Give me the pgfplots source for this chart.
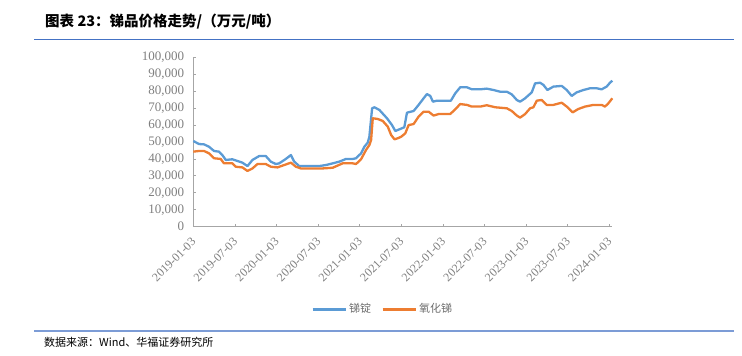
\documentclass[border=0pt]{standalone}
\usepackage{pgfplots}
\pgfplotsset{compat=1.18}
\usepackage{fontspec}
\setmainfont{Liberation Serif}
\newfontfamily\cjk{Noto Sans CJK SC}
\definecolor{cblue}{HTML}{5B9BD5}
\definecolor{corange}{HTML}{ED7D31}
\definecolor{tgray}{HTML}{7F7F7F}
\definecolor{lgray}{HTML}{6E6E6E}
\definecolor{agray}{HTML}{A6A6A6}
\definecolor{rule}{HTML}{4472C4}
\begin{document}
\begin{tikzpicture}[x=1bp,y=1bp]
\path[use as bounding box] (0,0) rectangle (742,355);
\node[anchor=west,inner sep=0pt,font=\cjk\bfseries\fontsize{14.5bp}{16bp}\selectfont] at (45,333) {图表 23：锑品价格走势/（万元/吨）};
\draw[rule,line width=1.3bp] (34,315.5) -- (734,315.5);
\draw[rule!70,line width=1.3bp] (34,24) -- (734,24);
\node[anchor=west,inner sep=0pt,font=\cjk\fontsize{11bp}{13bp}\selectfont] at (44,13) {数据来源：Wind、华福证券研究所};
\begin{axis}[
  at={(193.3bp,128.3bp)}, anchor=south west,
  scale only axis, width=419bp, height=169.4bp,
  xmin=2019, xmax=2024.036, ymin=0, ymax=100000,
  axis x line=bottom, axis y line=left,
  axis line style={agray,line width=0.8bp,-},
  xtick={2019,2019.5,2020,2020.5,2021,2021.5,2022,2022.5,2023,2023.5,2024},
  xticklabels={2019-01-03,2019-07-03,2020-01-03,2020-07-03,2021-01-03,2021-07-03,2022-01-03,2022-07-03,2023-01-03,2023-07-03,2024-01-03},
  ytick={0,10000,20000,30000,40000,50000,60000,70000,80000,90000,100000},
  yticklabels={0,{10,000},{20,000},{30,000},{40,000},{50,000},{60,000},{70,000},{80,000},{90,000},{100,000}},
  scaled ticks=false,
  tick style={agray,line width=0.8bp},
  major tick length=3bp,
  tick align=inside,
  xticklabel style={xshift=-2.5bp,yshift=-8.5bp,rotate=45,anchor=north east,font=\fontsize{12bp}{14bp}\selectfont,text=tgray,inner sep=1bp},
  yticklabel style={font=\fontsize{13bp}{15bp}\selectfont,text=tgray,inner sep=1bp,xshift=-8bp},
  legend style={at={(0.452,-0.486)},anchor=center,draw=none,fill=none,font=\cjk\fontsize{11bp}{13bp}\selectfont,text=lgray,legend columns=2,/tikz/every even column/.append style={column sep=8bp}},
  legend image code/.code={\draw[#1,line width=3bp] (0bp,0bp) -- (33bp,0bp);},
  clip=false,
]
\addplot[cblue,line width=2.3bp,line join=round] table {
2019.000 50600
2019.068 48800
2019.129 48600
2019.189 47200
2019.249 44700
2019.309 44300
2019.349 42300
2019.390 39400
2019.470 39800
2019.530 38800
2019.590 37800
2019.651 35800
2019.711 39400
2019.791 41700
2019.871 41700
2019.932 38400
2019.992 37000
2020.032 37400
2020.112 40000
2020.173 42300
2020.213 38400
2020.273 35800
2020.353 35800
2020.434 35800
2020.514 35800
2020.594 36400
2020.675 37400
2020.755 38400
2020.835 40000
2020.916 40000
2020.956 40400
2021.016 43300
2021.056 47200
2021.096 49600
2021.116 53100
2021.149 69900
2021.177 70500
2021.237 68900
2021.328 64000
2021.388 60000
2021.428 56500
2021.488 57700
2021.536 58700
2021.568 67300
2021.648 68300
2021.708 71900
2021.768 75800
2021.808 78300
2021.848 77200
2021.880 73800
2021.928 74400
2022.008 74400
2022.096 74400
2022.148 78700
2022.208 82300
2022.288 82300
2022.348 81100
2022.448 81100
2022.528 81500
2022.608 80700
2022.688 79700
2022.768 79700
2022.828 78100
2022.888 74800
2022.928 73800
2022.988 75800
2023.068 79300
2023.108 84600
2023.168 85000
2023.208 83700
2023.256 80700
2023.328 82700
2023.428 83100
2023.488 80700
2023.548 77200
2023.608 79300
2023.688 80700
2023.768 81700
2023.848 81700
2023.908 81100
2023.968 82700
2024.008 85000
2024.036 86200
};
\addlegendentry{锑锭}
\addplot[corange,line width=2.3bp,line join=round] table {
2019.000 44300
2019.068 44700
2019.129 44700
2019.189 43300
2019.249 40400
2019.329 40000
2019.369 37400
2019.470 37400
2019.510 35400
2019.590 35000
2019.651 32900
2019.711 34400
2019.771 37000
2019.871 37000
2019.932 35400
2020.012 35000
2020.092 36400
2020.173 37800
2020.233 35400
2020.293 34400
2020.434 34400
2020.554 34400
2020.675 34800
2020.795 37400
2020.916 37400
2020.956 37000
2021.016 39800
2021.076 45300
2021.116 48200
2021.137 51200
2021.157 64000
2021.217 63600
2021.277 62400
2021.337 59100
2021.378 54100
2021.418 51600
2021.458 52200
2021.498 53100
2021.548 55100
2021.588 60000
2021.648 60600
2021.708 65000
2021.768 67900
2021.828 67900
2021.888 65600
2021.948 66500
2022.088 66500
2022.148 69300
2022.208 72400
2022.288 71900
2022.348 70900
2022.448 70900
2022.528 71700
2022.628 70500
2022.768 69900
2022.828 68300
2022.888 65600
2022.928 64400
2022.988 66500
2023.048 69900
2023.088 70500
2023.128 74400
2023.188 74800
2023.248 71900
2023.328 71900
2023.428 73200
2023.488 70900
2023.560 67500
2023.628 69500
2023.708 70900
2023.808 71900
2023.908 71900
2023.948 70900
2023.988 72800
2024.036 75800
};
\addlegendentry{氧化锑}
\end{axis}
\end{tikzpicture}
\end{document}
